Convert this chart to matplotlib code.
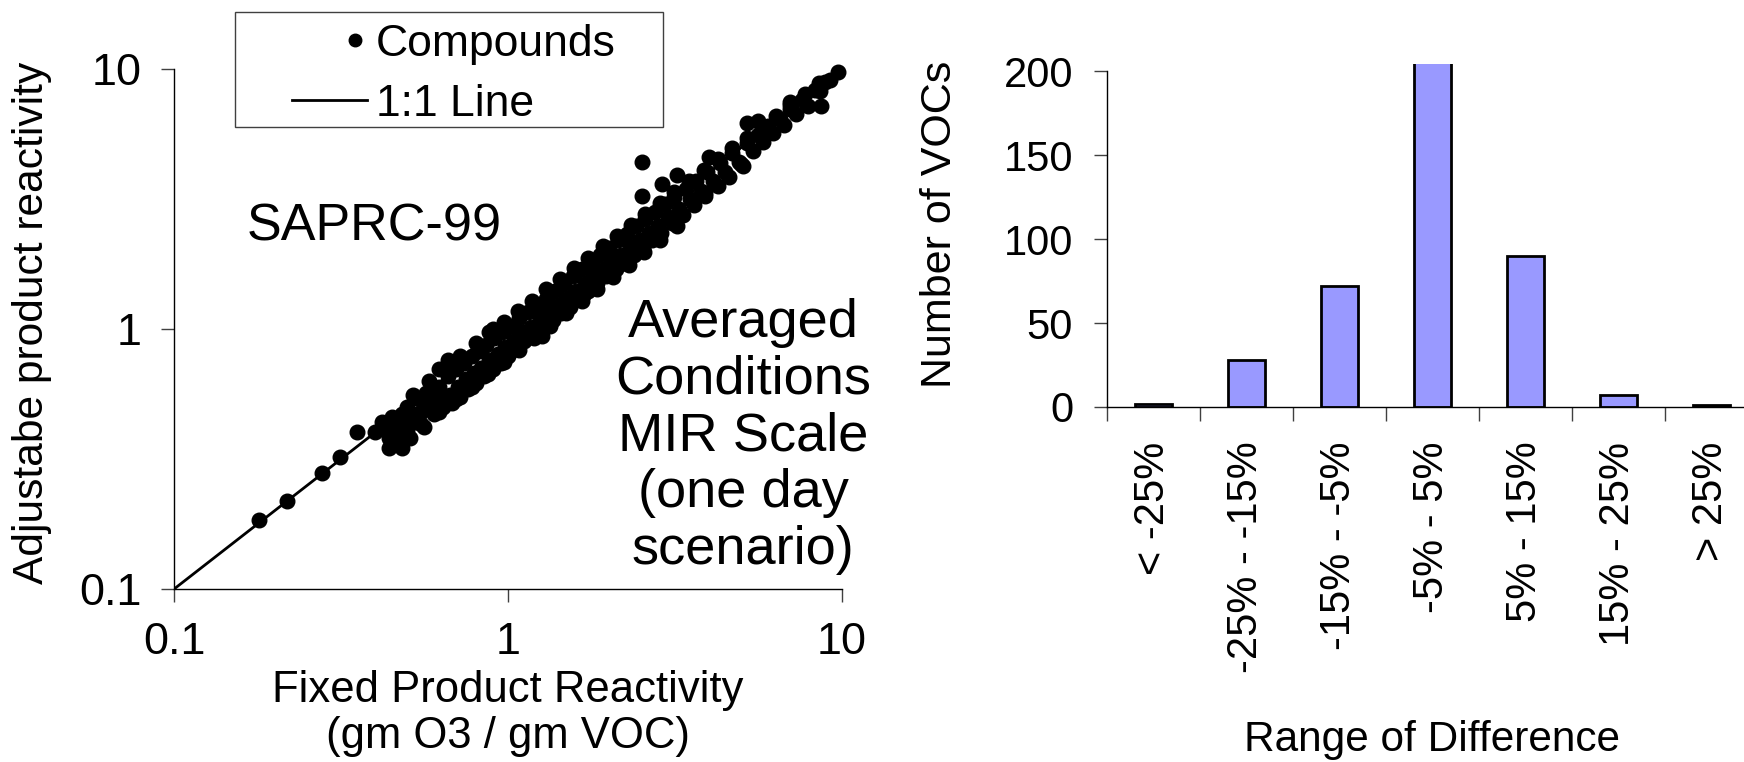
import matplotlib
matplotlib.use('Agg')
import matplotlib.pyplot as plt
from matplotlib import font_manager
from matplotlib.lines import Line2D
from matplotlib.patches import Rectangle
from matplotlib.legend_handler import HandlerLine2D

# --- data ---
# scatter: fixed product reactivity vs adjustable product reactivity (gm O3 / gm VOC)
fixed_react = [
    0.18, 0.218, 0.277, 0.315, 0.353,
    0.40, 0.42, 0.43, 0.44, 0.44, 0.45, 0.46, 0.47, 0.47, 0.48, 0.48, 0.49, 0.50, 0.50,
    0.51, 0.52, 0.53, 0.54, 0.55, 0.56, 0.57, 0.58, 0.60, 0.60, 0.62, 0.63, 0.64,
    0.66, 0.67, 0.68, 0.70, 0.71, 0.72, 0.74, 0.75, 0.76, 0.78, 0.79, 0.80, 0.82,
    0.83, 0.85, 0.86, 0.88, 0.90, 0.91, 0.93, 0.95, 0.96, 0.98, 1.00, 1.02, 1.04,
    1.06, 1.08, 1.10, 1.12, 1.15, 1.17, 1.20, 1.22, 1.25, 1.28, 1.30, 1.33, 1.36,
    1.38, 1.41, 1.44, 1.47, 1.50, 1.53, 1.56, 1.60, 1.64, 1.66, 1.70, 1.74, 1.77,
    1.81, 1.85, 1.88, 1.93, 1.97, 2.00, 2.05, 2.10, 2.13, 2.18, 2.23, 2.27, 2.32,
    2.38, 2.42, 2.48, 2.54, 2.58, 2.64, 2.70, 2.75, 2.82, 2.88, 2.95, 3.02, 3.10,
    3.15, 3.25, 3.35, 3.40, 3.50, 3.60, 3.65, 3.78, 3.90, 3.95, 4.10, 4.25, 4.30,
    4.45, 4.60, 4.70, 4.90, 5.05, 5.20, 5.40, 5.60, 5.80, 6.00, 6.20, 6.50, 6.70,
    7.00, 7.30, 7.60, 7.90, 8.30, 8.60, 8.90, 9.20, 9.70,
    1.26, 1.42, 1.69, 2.28, 2.52, 2.52, 2.90, 3.20, 5.00, 3.90, 3.14, 2.80, 8.65,
    4.00, 5.20, 5.60, 7.00, 0.62, 0.66, 0.90,
    0.52, 0.58, 0.65, 0.72, 0.80, 0.88, 0.97, 1.07, 1.18, 1.30, 1.43, 1.58, 1.74,
    1.92, 2.12, 2.34, 2.58, 2.85, 3.15, 3.48, 3.85, 4.25, 4.70, 5.20, 5.75, 6.35,
    7.00, 7.75, 8.55,
    0.55, 0.62, 0.70, 0.78, 0.87, 0.97, 1.08, 1.20, 1.34, 1.49, 1.66, 1.85, 2.06,
    2.30, 2.56, 2.85, 3.20,
]
adjust_react = [
    0.184, 0.219, 0.28, 0.323, 0.403,
    0.40, 0.44, 0.41, 0.38, 0.35, 0.46, 0.43, 0.36, 0.40, 0.47, 0.35, 0.44, 0.41, 0.50,
    0.38, 0.47, 0.44, 0.54, 0.48, 0.42, 0.57, 0.50, 0.55, 0.47, 0.60, 0.54, 0.50,
    0.66, 0.56, 0.52, 0.70, 0.60, 0.55, 0.74, 0.64, 0.59, 0.79, 0.68, 0.62, 0.82,
    0.71, 0.66, 0.87, 0.76, 0.70, 0.92, 0.80, 0.74, 0.97, 0.85, 0.79, 1.03, 0.91,
    0.84, 1.10, 0.97, 0.90, 1.16, 1.02, 0.95, 1.23, 1.09, 1.02, 1.31, 1.16, 1.08,
    1.40, 1.24, 1.15, 1.49, 1.32, 1.22, 1.60, 1.40, 1.30, 1.70, 1.50, 1.40, 1.80,
    1.60, 1.50, 1.92, 1.70, 1.60, 2.05, 1.82, 1.70, 2.20, 1.93, 1.80, 2.32, 2.06,
    1.93, 2.48, 2.20, 2.05, 2.65, 2.34, 2.20, 2.82, 2.50, 2.35, 3.02, 2.70, 2.55,
    3.22, 2.90, 2.75, 3.45, 3.15, 3.00, 3.72, 3.40, 3.25, 4.00, 3.70, 3.55, 4.35,
    4.00, 3.85, 4.75, 4.40, 4.25, 5.20, 4.85, 5.60, 5.25, 6.05, 5.70, 6.45, 6.10,
    7.00, 6.70, 7.60, 7.20, 8.30, 8.20, 8.90, 9.10, 9.70,
    0.94, 1.18, 1.36, 1.90, 4.40, 3.26, 3.60, 3.90, 4.30, 3.35, 2.69, 2.43, 7.20,
    4.60, 6.20, 6.30, 7.50, 0.70, 0.76, 1.00,
    0.56, 0.63, 0.70, 0.79, 0.88, 0.97, 1.06, 1.17, 1.28, 1.42, 1.56, 1.72, 1.88,
    2.08, 2.28, 2.52, 2.78, 3.06, 3.38, 3.72, 4.10, 4.50, 4.95, 5.45, 6.00, 6.60,
    7.25, 8.00, 8.80,
    0.43, 0.48, 0.54, 0.60, 0.67, 0.75, 0.83, 0.92, 1.03, 1.15, 1.28, 1.43, 1.59,
    1.77, 1.97, 2.20, 2.50,
]

# histogram of differences
ranges = ['< -25%', '-25% - -15%', '-15% - -5%', '-5% - 5%',
          '5% - 15%', '15% - 25%', '> 25%']
n_vocs = [2, 28, 72, 210, 90, 7, 1]

# fonts: the left panel text is narrow in the original
installed = {f.name for f in font_manager.fontManager.ttflist}
if 'Liberation Sans Narrow' in installed:
    NARROW, k = 'Liberation Sans Narrow', 1.0
else:
    NARROW, k = 'Liberation Sans', 0.85
plt.rcParams['font.family'] = ['Liberation Sans', 'DejaVu Sans']


class DotRight(HandlerLine2D):
    # Excel puts the legend dot near the right end of the handle
    def create_artists(self, legend, orig_handle, xdescent, ydescent, width,
                       height, fontsize, trans):
        artists = super().create_artists(legend, orig_handle, xdescent, ydescent,
                                         width, height, fontsize, trans)
        line = artists[0]
        x = line.get_xdata()
        line.set_xdata([x[0], x[0] + 0.84 * (x[-1] - x[0]), x[-1]])
        return artists


fig = plt.figure(figsize=(17.44, 7.62), dpi=100)

# ---------------- left: scatter ----------------
ax1 = fig.add_axes([0.0998, 0.2270, 0.3830, 0.6824])
ax1.plot([0.1, 10], [0.1, 10], color='black', lw=2, zorder=2)
ax1.plot(fixed_react, adjust_react, ls='none', marker='o', ms=10.5,
         color='black', zorder=3, clip_on=False)
ax1.set_xscale('log')
ax1.set_yscale('log')
ax1.set_xlim(0.1, 10)
ax1.set_ylim(0.1, 10)
ax1.set_xticks([0.1, 1, 10])
ax1.set_yticks([0.1, 1, 10])
ax1.set_xticklabels(['0.1', '1', '10'], family=NARROW, fontsize=38 * k)
ax1.set_yticklabels(['0.1', '1', '10'], family=NARROW, fontsize=38 * k)
ax1.minorticks_off()
ax1.tick_params(direction='out', length=9.4, width=1, color='#404040', pad=14)
for s in ['top', 'right']:
    ax1.spines[s].set_visible(False)
for s in ['left', 'bottom']:
    ax1.spines[s].set_linewidth(1)
ax1.set_xlabel('Fixed Product Reactivity\n(gm O3 / gm VOC)', family=NARROW,
               fontsize=37 * k, linespacing=1.15, va='center')
ax1.xaxis.set_label_coords(0.5, -0.2394)
ax1.set_ylabel('Adjustabe product reactivity', family=NARROW, fontsize=36 * k,
               va='center')
ax1.yaxis.set_label_coords(-0.2126, 0.5115)

ax1.text(0.1093, 0.696, 'SAPRC-99', transform=ax1.transAxes, fontsize=37.5,
         ha='left', va='center')
ax1.text(0.8518, 0.2933, 'Averaged\nConditions\nMIR Scale\n(one day\nscenario)',
         transform=ax1.transAxes, family=NARROW, fontsize=46 * k,
         ha='center', va='center', multialignment='center', linespacing=1.17)

# legend (Excel style box)
dot_handle = Line2D([], [], ls='none', marker='o', ms=9, color='black')
line_handle = Line2D([], [], color='black', lw=2)
fig.legend([dot_handle, line_handle], ['Compounds', '1:1 Line'],
           handler_map={dot_handle: DotRight()}, loc='upper left',
           bbox_to_anchor=(292 / 1744, 1 - 24 / 762), frameon=False,
           fontsize=32, borderpad=0, handlelength=1.69, handletextpad=0.2,
           labelspacing=0.42, borderaxespad=0, numpoints=1)
fig.patches.append(Rectangle((235 / 1744, 1 - 127 / 762), 428 / 1744, 115 / 762,
                             transform=fig.transFigure, fill=False,
                             edgecolor='#404040', lw=1))

# ---------------- right: bars ----------------
ax2 = fig.add_axes([0.6347, 0.4659, 0.3733, 0.4501])
pos = list(range(len(ranges)))
ax2.bar(pos, n_vocs, width=0.4, color='#9999FF', edgecolor='black', lw=2)
ax2.set_xlim(-0.5, len(ranges) - 0.5)
ax2.set_ylim(0, 204.2)
ax2.set_yticks([0, 50, 100, 150, 200])
ax2.tick_params(axis='y', direction='out', length=9.4, width=1, color='#404040',
                labelsize=30, pad=15)
ax2.set_xticks([p - 0.5 for p in pos])
ax2.set_xticklabels([])
ax2.set_xticks(pos, minor=True)
ax2.set_xticklabels(ranges, minor=True, rotation=90, fontsize=30)
ax2.tick_params(axis='x', which='major', direction='out', length=10,
                width=1, color='#404040')
ax2.tick_params(axis='x', which='minor', length=0, pad=25)
for s in ['top', 'right']:
    ax2.spines[s].set_visible(False)
ax2.spines['left'].set_bounds(0, 200)
for s in ['left', 'bottom']:
    ax2.spines[s].set_linewidth(1)
ax2.set_ylabel('Number of VOCs', fontsize=31, va='center')
ax2.yaxis.set_label_coords(-0.2565, 0.531)
ax2.set_xlabel('Range of Difference', fontsize=30.5, va='center')
ax2.xaxis.set_label_coords(0.5, -0.971)

fig.savefig('out.png', dpi=100)
